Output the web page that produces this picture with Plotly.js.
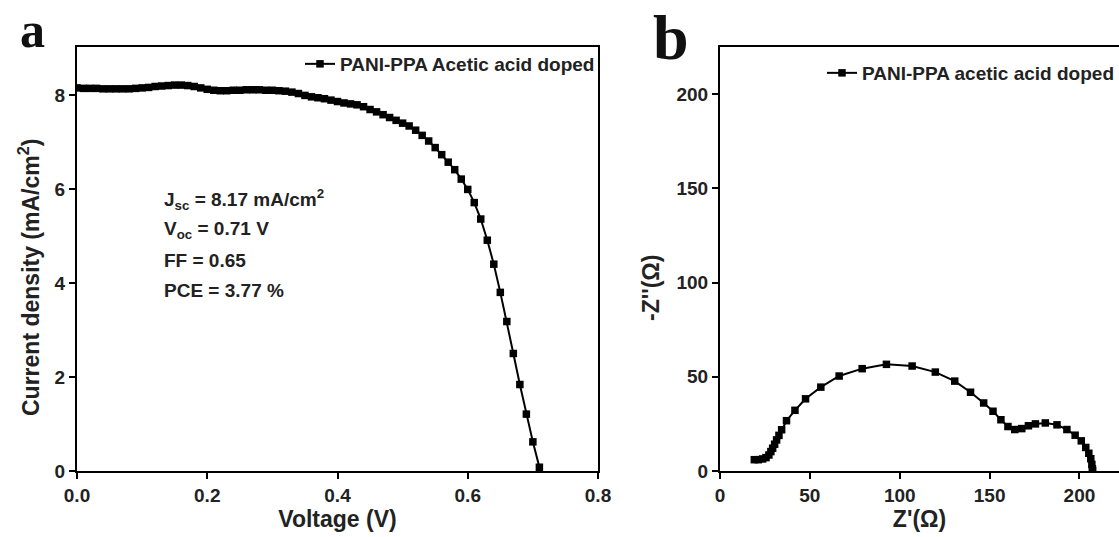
<!DOCTYPE html>
<html>
<head>
<meta charset="utf-8">
<script src="https://cdn.plot.ly/plotly-3.0.1.min.js"></script>
<style>html,body{margin:0;padding:0;background:#fff;}#chart{width:1119px;height:537px;}</style>
</head>
<body>
<div id="chart"></div>
<script>
// Panel a: J-V curve
const voltage = [0.00,0.01,0.02,0.03,0.04,0.05,0.06,0.07,0.08,0.09,
  0.10,0.11,0.12,0.13,0.14,0.15,0.16,0.17,0.18,0.19,
  0.20,0.21,0.22,0.23,0.24,0.25,0.26,0.27,0.28,0.29,
  0.30,0.31,0.32,0.33,0.34,0.35,0.36,0.37,0.38,0.39,
  0.40,0.41,0.42,0.43,0.44,0.45,0.46,0.47,0.48,0.49,
  0.50,0.51,0.52,0.53,0.54,0.55,0.56,0.57,0.58,0.59,
  0.60,0.61,0.62,0.63,0.64,0.65,0.66,0.67,0.68,0.69,
  0.70,0.71];
const currentDensity = [8.15,8.14,8.14,8.14,8.13,8.13,8.13,8.13,8.13,8.14,
  8.15,8.16,8.18,8.19,8.20,8.21,8.21,8.20,8.18,8.15,
  8.12,8.10,8.09,8.09,8.10,8.10,8.11,8.11,8.11,8.10,
  8.10,8.09,8.08,8.06,8.03,7.99,7.96,7.94,7.92,7.89,
  7.86,7.83,7.81,7.79,7.75,7.69,7.64,7.58,7.52,7.46,
  7.40,7.34,7.25,7.14,7.02,6.88,6.73,6.57,6.41,6.21,
  5.99,5.71,5.36,4.91,4.40,3.80,3.18,2.50,1.84,1.21,
  0.62,0.08];

// Panel b: Nyquist plot
const zReal = [19.1,21.3,23.7,25.6,27.2,28.3,29.3,30.4,31.5,32.8,
  34.3,37.0,41.7,47.6,56.1,66.3,79.1,92.6,106.9,119.8,
  130.6,139.4,146.7,151.9,156.3,160.2,164.0,167.9,171.6,175.5,
  181.0,187.5,193.0,197.6,201.0,203.5,205.2,206.3,206.9,207.2,207.3];
const zImag = [6.0,6.0,6.4,7.1,8.5,10.3,12.1,14.2,16.5,18.9,
  21.9,26.7,32.2,38.3,44.5,50.4,54.3,56.6,55.7,52.5,
  47.7,41.8,36.1,31.7,27.2,23.6,22.0,22.5,24.0,25.0,
  25.5,24.5,22.0,19.0,16.0,12.5,9.4,6.5,3.5,1.2,0.2];

const xTicksA = [0, 0.2, 0.4, 0.6, 0.8];
const xTickTextA = ['0.0', '0.2', '0.4', '0.6', '0.8'];
const yTicksA = [0, 2, 4, 6, 8];
const xTicksB = [0, 50, 100, 150, 200];
const yTicksB = [0, 50, 100, 150, 200];

const paramLines = ['J<sub>sc</sub> = 8.17 mA/cm<sup>2</sup>', 'V<sub>oc</sub> = 0.71 V', 'FF = 0.65', 'PCE = 3.77 %'];

const FONT = 'Liberation Sans, Arial, sans-serif';
const SERIF = 'Liberation Serif, Times New Roman, serif';
const W = 1119, H = 537;
const px = v => v / W;
const py = v => (H - v) / H;
const titleFont = {family: FONT, size: 23, color: '#222', weight: 'bold'};

const axisCommon = {
  showline: true, linecolor: '#000', linewidth: 2,
  ticks: 'outside', ticklen: 6, tickwidth: 2, tickcolor: '#000',
  showgrid: false, zeroline: false, automargin: false,
  tickfont: {family: FONT, size: 19, color: '#222', weight: 'bold'}
};

const traces = [
  {
    x: voltage, y: currentDensity, type: 'scatter', mode: 'lines+markers',
    name: 'PANI-PPA Acetic acid doped',
    line: {color: '#000', width: 2},
    marker: {symbol: 'square', size: 7.5, color: '#000'},
    xaxis: 'x', yaxis: 'y', legend: 'legend'
  },
  {
    x: zReal, y: zImag, type: 'scatter', mode: 'lines+markers',
    name: 'PANI-PPA acetic acid doped',
    line: {color: '#000', width: 2},
    marker: {symbol: 'square', size: 7.5, color: '#000'},
    xaxis: 'x2', yaxis: 'y2', legend: 'legend2'
  }
];

const annotations = paramLines.map((t, i) => ({
  xref: 'paper', yref: 'paper', x: px(162), y: py(199 + i * 30.5),
  xanchor: 'left', yanchor: 'middle', showarrow: false, text: t,
  font: {family: FONT, size: 19, color: '#222', weight: 'bold'}
}));
annotations.push({
  xref: 'paper', yref: 'paper', x: px(32), y: 1, xanchor: 'center', yanchor: 'top',
  showarrow: false, text: 'a', font: {family: SERIF, size: 50, color: '#111', weight: 'bold'}
});
annotations.push({
  xref: 'paper', yref: 'paper', x: px(671), y: 1, xanchor: 'center', yanchor: 'top',
  showarrow: false, text: 'b', font: {family: SERIF, size: 64, color: '#111', weight: 'bold'}
});
// y-axis titles
annotations.push({
  xref: 'paper', yref: 'paper', x: px(29), y: py(278), xanchor: 'center', yanchor: 'middle',
  textangle: -90, showarrow: false, text: 'Current density (mA/cm<sup>2</sup>)', font: titleFont
});
annotations.push({
  xref: 'paper', yref: 'paper', x: px(651), y: py(288), xanchor: 'center', yanchor: 'middle',
  textangle: -90, showarrow: false, text: "-Z''(Ω)", font: titleFont
});

const layout = {
  width: W, height: H,
  margin: {l: 0, r: 0, t: 0, b: 0},
  paper_bgcolor: '#fff', plot_bgcolor: '#fff',
  showlegend: true,
  xaxis: Object.assign({}, axisCommon, {
    domain: [px(77), px(598)], range: [0, 0.8], anchor: 'y', mirror: true,
    tickvals: xTicksA, ticktext: xTickTextA,
    title: {text: 'Voltage (V)', standoff: 5, font: titleFont}
  }),
  yaxis: Object.assign({}, axisCommon, {
    domain: [py(471), py(47)], range: [0, 9.02], anchor: 'x', mirror: true,
    tickvals: yTicksA
  }),
  xaxis2: Object.assign({}, axisCommon, {
    domain: [px(720), 1], range: [0, 222], anchor: 'y2', mirror: true,
    tickvals: xTicksB,
    title: {text: "Z'(Ω)", standoff: 5, font: titleFont}
  }),
  yaxis2: Object.assign({}, axisCommon, {
    domain: [py(471), py(47)], range: [0, 225], anchor: 'x2', mirror: false,
    tickvals: yTicksB
  }),
  legend: {
    x: px(600), y: py(64), xanchor: 'right', yanchor: 'middle', xref: 'paper', yref: 'paper',
    bgcolor: 'rgba(0,0,0,0)', borderwidth: 0,
    font: {family: FONT, size: 19, color: '#222', weight: 'bold'}
  },
  legend2: {
    x: px(1119), y: py(73), xanchor: 'right', yanchor: 'middle', xref: 'paper', yref: 'paper',
    bgcolor: 'rgba(0,0,0,0)', borderwidth: 0,
    font: {family: FONT, size: 19, color: '#222', weight: 'bold'}
  },
  annotations: annotations
};

Plotly.newPlot('chart', traces, layout, {displayModeBar: false, staticPlot: true});
</script>
</body>
</html>
